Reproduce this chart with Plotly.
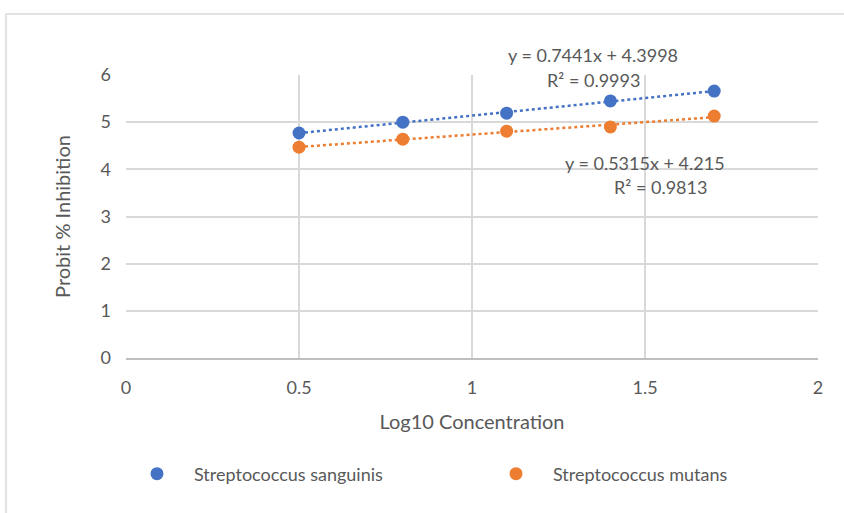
import numpy as np
import plotly.graph_objects as go

log_conc = [0.5, 0.8, 1.1, 1.4, 1.7]
sanguinis = [4.77, 5.00, 5.19, 5.45, 5.66]
mutans = [4.47, 4.64, 4.81, 4.90, 5.13]
series_names = ["Streptococcus sanguinis", "Streptococcus mutans"]
eq_lines = [("y = 0.7441x + 4.3998", "R² = 0.9993"), ("y = 0.5315x + 4.215", "R² = 0.9813")]
x_ticks = [0, 0.5, 1, 1.5, 2]
y_ticks = [0, 1, 2, 3, 4, 5, 6]

blue = "#4472C4"
orange = "#ED7D31"
gray_text = "#595959"
FONT = "Lato, Open Sans, Liberation Sans"

# plot area in pixels
L, R, T, B = 126, 818, 75, 358
W, H = 844, 513
def px(x):
    return (x - L) / (R - L)
def py(y):
    return (B - y) / (B - T)

fig = go.Figure()
xs = np.array(log_conc)
for ys, col in [(sanguinis, blue), (mutans, orange)]:
    m, b = np.polyfit(xs, np.array(ys), 1)
    fig.add_trace(go.Scatter(x=[xs.min(), xs.max()], y=[m * xs.min() + b, m * xs.max() + b],
                             mode="lines", line=dict(color=col, width=2.5, dash="dot"),
                             showlegend=False, hoverinfo="skip"))
for ys, col, name in [(sanguinis, blue, series_names[0]), (mutans, orange, series_names[1])]:
    fig.add_trace(go.Scatter(x=log_conc, y=ys, mode="markers", name=name,
                             marker=dict(color=col, size=13)))

ann_pos = [((593, 55), (593, 80)), ((645, 163), (660, 187))]
for (l1, l2), (p1, p2) in zip(eq_lines, ann_pos):
    for txt, (ax, ay) in [(l1, p1), (l2, p2)]:
        fig.add_annotation(x=px(ax), y=py(ay), xref="paper", yref="paper", text=txt, showarrow=False,
                           font=dict(family=FONT, size=18, color=gray_text),
                           xanchor="center", yanchor="middle")

fig.add_shape(type="rect", xref="paper", yref="paper", x0=px(6), y0=py(560), x1=px(900), y1=py(14),
              line=dict(color="#d9d9d9", width=1.5), fillcolor="rgba(0,0,0,0)", layer="below")

fig.update_layout(
    width=W, height=H,
    margin=dict(l=L, r=W - R, t=T, b=H - B),
    paper_bgcolor="white", plot_bgcolor="white",
    font=dict(family=FONT, size=18, color=gray_text),
    xaxis=dict(range=[0, 2], tickvals=x_ticks, showgrid=True, gridcolor="#d9d9d9", gridwidth=1.5,
               zeroline=False, showline=True, linecolor="#bfbfbf", linewidth=1.5,
               ticks="", ticklabelstandoff=13, automargin=False,
               title=dict(text="Log10 Concentration", font=dict(size=20, color=gray_text), standoff=18)),
    yaxis=dict(range=[0, 6], tickvals=y_ticks, showgrid=True, gridcolor="#d9d9d9", gridwidth=1.5,
               zeroline=False, showline=False, ticks="", ticklabelstandoff=14, automargin=False,
               title=dict(text="Probit % Inhibition", font=dict(size=20, color=gray_text), standoff=24)),
    legend=dict(orientation="h", x=px(120), xanchor="left", y=py(474), yanchor="middle",
                font=dict(size=18, color=gray_text), itemwidth=64, entrywidthmode="pixels", entrywidth=280,
                bgcolor="rgba(0,0,0,0)"),
)

fig.write_html("out.html")
